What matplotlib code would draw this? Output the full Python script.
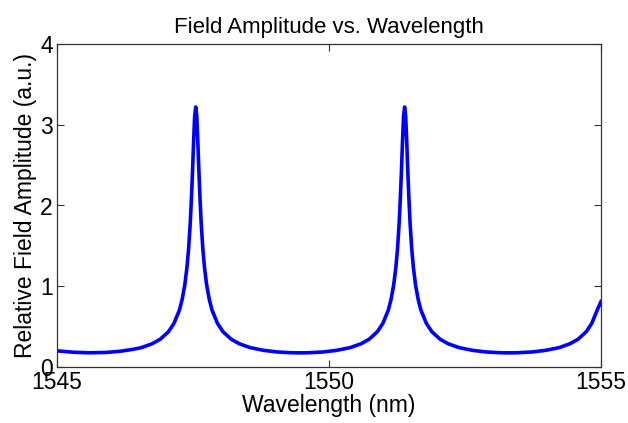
import matplotlib
matplotlib.use("Agg")
import matplotlib.pyplot as plt

plt.rcParams['font.family'] = ['Liberation Sans', 'DejaVu Sans']

# values
wavelength = [
    1545.00, 1545.30, 1545.60, 1545.90, 1546.15, 1546.40, 1546.55, 1546.75,
    1546.90, 1547.05, 1547.15, 1547.25, 1547.30, 1547.35, 1547.39, 1547.42,
    1547.45, 1547.47, 1547.49, 1547.51, 1547.53, 1547.55, 1547.57, 1547.59,
    1547.61, 1547.63, 1547.65, 1547.68, 1547.71, 1547.75, 1547.80, 1547.85,
    1547.95, 1548.05, 1548.20, 1548.35, 1548.55, 1548.80, 1549.05, 1549.30,
    1549.47, 1549.64, 1549.89, 1550.14, 1550.39, 1550.59, 1550.74, 1550.89,
    1550.99, 1551.09, 1551.14, 1551.19, 1551.23, 1551.26, 1551.29, 1551.31,
    1551.33, 1551.35, 1551.37, 1551.39, 1551.41, 1551.43, 1551.45, 1551.47,
    1551.49, 1551.52, 1551.55, 1551.59, 1551.64, 1551.69, 1551.79, 1551.89,
    1552.04, 1552.19, 1552.39, 1552.64, 1552.89, 1553.14, 1553.31, 1553.48,
    1553.73, 1553.98, 1554.23, 1554.43, 1554.58, 1554.73, 1554.83, 1554.93,
    1555.00,
]
amplitude = [
    0.200, 0.183, 0.176, 0.180, 0.194, 0.219, 0.240, 0.288,
    0.345, 0.438, 0.540, 0.704, 0.834, 1.02, 1.24, 1.47,
    1.79, 2.07, 2.40, 2.77, 3.10, 3.22, 3.10, 2.77,
    2.40, 2.07, 1.79, 1.47, 1.24, 1.02, 0.834, 0.704,
    0.540, 0.438, 0.345, 0.288, 0.240, 0.206, 0.186, 0.177,
    0.175, 0.177, 0.186, 0.206, 0.240, 0.288, 0.345, 0.438,
    0.540, 0.704, 0.834, 1.02, 1.24, 1.47, 1.79, 2.07,
    2.40, 2.77, 3.10, 3.22, 3.10, 2.77, 2.40, 2.07,
    1.79, 1.47, 1.24, 1.02, 0.834, 0.704, 0.540, 0.438,
    0.345, 0.288, 0.240, 0.206, 0.186, 0.177, 0.175, 0.177,
    0.186, 0.206, 0.240, 0.288, 0.345, 0.438, 0.540, 0.704,
    0.81,
]
xticks = [1545, 1550, 1555]
yticks = [0, 1, 2, 3, 4]

fig = plt.figure(figsize=(6.28, 4.23), dpi=100)
ax = fig.add_axes([57/628, 1 - 367/423, 544/628, 323/423])

ax.plot(wavelength, amplitude, color='#0000ff', lw=2.6, solid_joinstyle='round')

ax.set_xlim(1545, 1555)
ax.set_ylim(0, 4)
ax.set_xticks(xticks)
ax.set_yticks(yticks)
ax.tick_params(direction='in', top=True, right=True, length=5, width=0.8,
               labelsize=16.5, pad=3, color='#333333')
for s in ax.spines.values():
    s.set_linewidth(0.9)
    s.set_color('#333333')

ax.set_title('Field Amplitude vs. Wavelength', fontsize=16, pad=8)
ax.set_xlabel('Wavelength (nm)', fontsize=16.5, labelpad=0)
ax.set_ylabel('Relative Field Amplitude (a.u.)', fontsize=16.5, labelpad=2)

fig.savefig('out.png', dpi=100)
